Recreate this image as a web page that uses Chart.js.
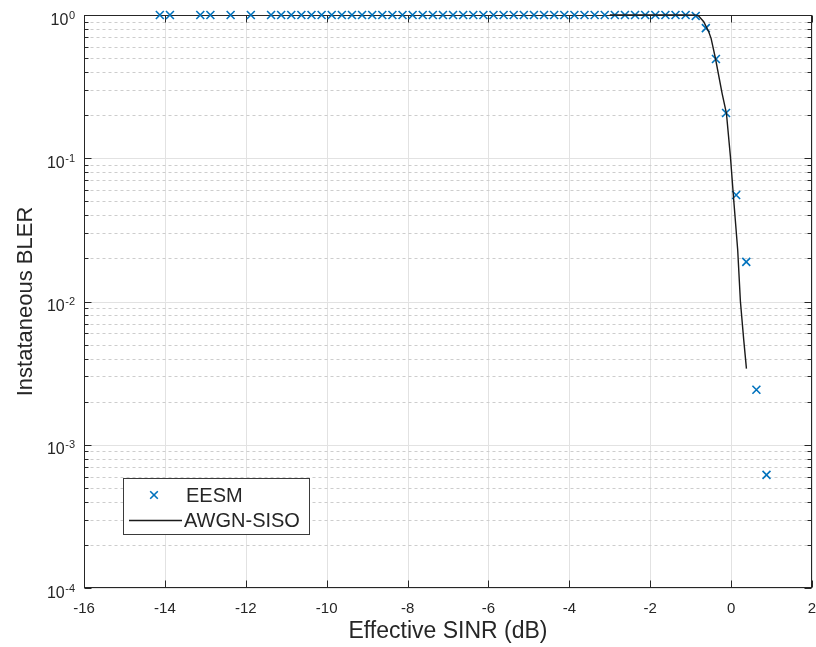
<!DOCTYPE html>
<html lang="en">
<head>
<meta charset="UTF-8">
<title>Instataneous BLER vs Effective SINR</title>
<script src="https://cdn.jsdelivr.net/npm/chart.js"></script>
<style>
  html, body { margin: 0; padding: 0; background: #fff; }
  #wrap { width: 816px; height: 647px; }
</style>
</head>
<body>
<div id="wrap"><canvas id="blerChart" width="816" height="647"></canvas></div>
<script>
// EESM points: effective SINR (dB) and instantaneous BLER
const eesmSinr = [-14.125, -13.875, -13.125, -12.875, -12.375, -11.875,
    -11.375, -11.125, -10.875, -10.625, -10.375, -10.125, -9.875, -9.625, -9.375, -9.125,
    -8.875, -8.625, -8.375, -8.125, -7.875, -7.625, -7.375, -7.125, -6.875, -6.625,
    -6.375, -6.125, -5.875, -5.625, -5.375, -5.125, -4.875, -4.625, -4.375, -4.125,
    -3.875, -3.625, -3.375, -3.125, -2.875, -2.625, -2.375, -2.125, -1.875, -1.625,
    -1.375, -1.125, -0.875, -0.625, -0.375, -0.125, 0.125, 0.375, 0.625, 0.875];
const eesmBler = [1, 1, 1, 1, 1, 1,
    1, 1, 1, 1, 1, 1, 1, 1, 1, 1,
    1, 1, 1, 1, 1, 1, 1, 1, 1, 1,
    1, 1, 1, 1, 1, 1, 1, 1, 1, 1,
    1, 1, 1, 1, 1, 1, 1, 1, 1, 1,
    1, 1, 0.985, 0.81, 0.493, 0.207, 0.0554, 0.0189, 0.00242, 0.000616];

// AWGN SISO reference curve
const awgnSinr = [-3, -1.2, -0.88, -0.8, -0.678, -0.554, -0.495, -0.388, -0.223, -0.116,
    -0.017, 0.064, 0.163, 0.23, 0.312, 0.379];
const awgnBler = [1, 1, 0.998, 0.984, 0.898, 0.765, 0.687, 0.499, 0.284, 0.206,
    0.1026, 0.0513, 0.0229, 0.01, 0.0054, 0.0034];

// axis ticks
const xTicks = [-16, -14, -12, -10, -8, -6, -4, -2, 0, 2];
const yDecades = [1e-4, 1e-3, 1e-2, 1e-1, 1];
const yExponents = ['-4', '-3', '-2', '-1', '0'];
const yMinorSteps = [2, 3, 4, 5, 6, 7, 8, 9];

const FONT = '"Liberation Sans", Arial, Helvetica, sans-serif';
const AXIS_COLOR = '#262626';

// grid, box and inward tick marks (matlab look)
const axesPlugin = {
    id: 'axesPlugin',
    beforeDatasetsDraw(chart) {
        const { ctx, chartArea: a, scales: { x, y } } = chart;
        const L = a.left + 0.5, R = a.right - 0.5, T = a.top + 0.5, B = a.bottom - 0.5;
        ctx.save();
        ctx.lineWidth = 1;

        // major grid
        ctx.strokeStyle = '#e2e2e2';
        xTicks.forEach(v => {
            const px = Math.round(x.getPixelForValue(v)) + 0.5;
            ctx.beginPath(); ctx.moveTo(px, T); ctx.lineTo(px, B); ctx.stroke();
        });
        yDecades.forEach(v => {
            const py = Math.round(y.getPixelForValue(v)) + 0.5;
            ctx.beginPath(); ctx.moveTo(L, py); ctx.lineTo(R, py); ctx.stroke();
        });

        // minor grid (dashed)
        ctx.strokeStyle = '#cdcdcd';
        ctx.setLineDash([3, 3]);
        yDecades.slice(0, -1).forEach(d => {
            yMinorSteps.forEach(m => {
                const py = Math.round(y.getPixelForValue(d * m)) + 0.5;
                ctx.beginPath(); ctx.moveTo(L, py); ctx.lineTo(R, py); ctx.stroke();
            });
        });
        ctx.setLineDash([]);

        // tick marks
        ctx.strokeStyle = AXIS_COLOR;
        xTicks.forEach(v => {
            const px = Math.round(x.getPixelForValue(v)) + 0.5;
            ctx.beginPath();
            ctx.moveTo(px, B); ctx.lineTo(px, B - 7);
            ctx.moveTo(px, T); ctx.lineTo(px, T + 7);
            ctx.stroke();
        });
        yDecades.forEach(d => {
            const py = Math.round(y.getPixelForValue(d)) + 0.5;
            ctx.beginPath();
            ctx.moveTo(L, py); ctx.lineTo(L + 7, py);
            ctx.moveTo(R, py); ctx.lineTo(R - 7, py);
            ctx.stroke();
            if (d === 1) return;
            yMinorSteps.forEach(m => {
                const pm = Math.round(y.getPixelForValue(d * m)) + 0.5;
                ctx.beginPath();
                ctx.moveTo(L, pm); ctx.lineTo(L + 4, pm);
                ctx.moveTo(R, pm); ctx.lineTo(R - 4, pm);
                ctx.stroke();
            });
        });

        // box
        ctx.strokeRect(L, T, R - L, B - T);
        ctx.restore();
    },
    afterDraw(chart) {
        const { ctx, scales: { y } } = chart;
        ctx.save();
        ctx.fillStyle = AXIS_COLOR;

        // y tick labels 10^n
        yDecades.forEach((d, i) => {
            const py = y.getPixelForValue(d);
            const exp = yExponents[i];
            ctx.font = '11px ' + FONT;
            const ew = ctx.measureText(exp).width;
            const right = 75;
            ctx.textAlign = 'left';
            ctx.textBaseline = 'alphabetic';
            ctx.fillText(exp, right - ew, py + 3.5);
            ctx.font = '16px ' + FONT;
            ctx.textAlign = 'right';
            ctx.fillText('10', right - ew - 0.5, py + 9.5);
        });

        // legend
        const ds = chart.data.datasets;
        const lx = 123.5, ly = 478.5, lw = 186, lh = 56;
        ctx.fillStyle = '#fff';
        ctx.fillRect(lx, ly, lw, lh);
        ctx.strokeStyle = '#3a3a3a';
        ctx.lineWidth = 1;
        ctx.strokeRect(lx, ly, lw, lh);

        ctx.strokeStyle = ds[0].borderColor;
        ctx.lineWidth = ds[0].borderWidth;
        const mx = 154, my = 495, mr = 3.8;
        ctx.beginPath();
        ctx.moveTo(mx - mr, my - mr); ctx.lineTo(mx + mr, my + mr);
        ctx.moveTo(mx - mr, my + mr); ctx.lineTo(mx + mr, my - mr);
        ctx.stroke();

        ctx.strokeStyle = ds[1].borderColor;
        ctx.lineWidth = ds[1].borderWidth;
        ctx.beginPath();
        ctx.moveTo(129, 520.5); ctx.lineTo(182, 520.5);
        ctx.stroke();

        ctx.fillStyle = AXIS_COLOR;
        ctx.font = '20px ' + FONT;
        ctx.textAlign = 'left';
        ctx.textBaseline = 'alphabetic';
        ctx.fillText(ds[0].label, 186, 502);
        ctx.fillText(ds[1].label, 184, 527);
        ctx.restore();
    }
};

const ctx = document.getElementById('blerChart').getContext('2d');
new Chart(ctx, {
    type: 'scatter',
    data: {
        datasets: [{
            label: 'EESM',
            data: eesmSinr.map((v, i) => ({ x: v, y: eesmBler[i] })),
            showLine: false,
            pointStyle: 'crossRot',
            pointRadius: 5.6,
            pointHoverRadius: 5.6,
            borderColor: '#0072BD',
            backgroundColor: '#0072BD',
            borderWidth: 1.6,
            clip: false,
            order: 1
        }, {
            label: 'AWGN-SISO',
            data: awgnSinr.map((v, i) => ({ x: v, y: awgnBler[i] })),
            showLine: true,
            pointRadius: 0,
            borderColor: '#1a1a1a',
            borderWidth: 1.4,
            tension: 0,
            clip: false,
            order: 0
        }]
    },
    options: {
        responsive: false,
        animation: false,
        devicePixelRatio: 1,
        layout: { autoPadding: false, padding: { top: 15, right: 4, left: 0, bottom: 0 } },
        plugins: {
            legend: { display: false },
            tooltip: { enabled: false }
        },
        scales: {
            x: {
                type: 'linear',
                min: -16,
                max: 2,
                afterBuildTicks: s => { s.ticks = xTicks.map(v => ({ value: v })); },
                afterFit: s => {
                    s.height = 59;
                    s.paddingLeft = 0;
                    s.paddingRight = 0;
                },
                grid: { display: false, drawTicks: false },
                border: { display: false },
                ticks: {
                    font: { family: FONT, size: 15 },
                    color: AXIS_COLOR,
                    padding: 12,
                    maxRotation: 0,
                    autoSkip: false
                },
                title: {
                    display: true,
                    text: 'Effective SINR (dB)',
                    color: AXIS_COLOR,
                    font: { family: FONT, size: 23 },
                    padding: { top: 0, bottom: 2 }
                }
            },
            y: {
                type: 'logarithmic',
                min: 1e-4,
                max: 1,
                afterFit: s => {
                    s.width = 84;
                    s.paddingTop = 0;
                    s.paddingBottom = 0;
                },
                grid: { display: false, drawTicks: false },
                border: { display: false },
                ticks: { display: false },
                title: {
                    display: true,
                    text: 'Instataneous BLER',
                    color: AXIS_COLOR,
                    font: { family: FONT, size: 22 },
                    padding: { top: 13, bottom: 0 }
                }
            }
        }
    },
    plugins: [axesPlugin]
});
</script>
</body>
</html>
